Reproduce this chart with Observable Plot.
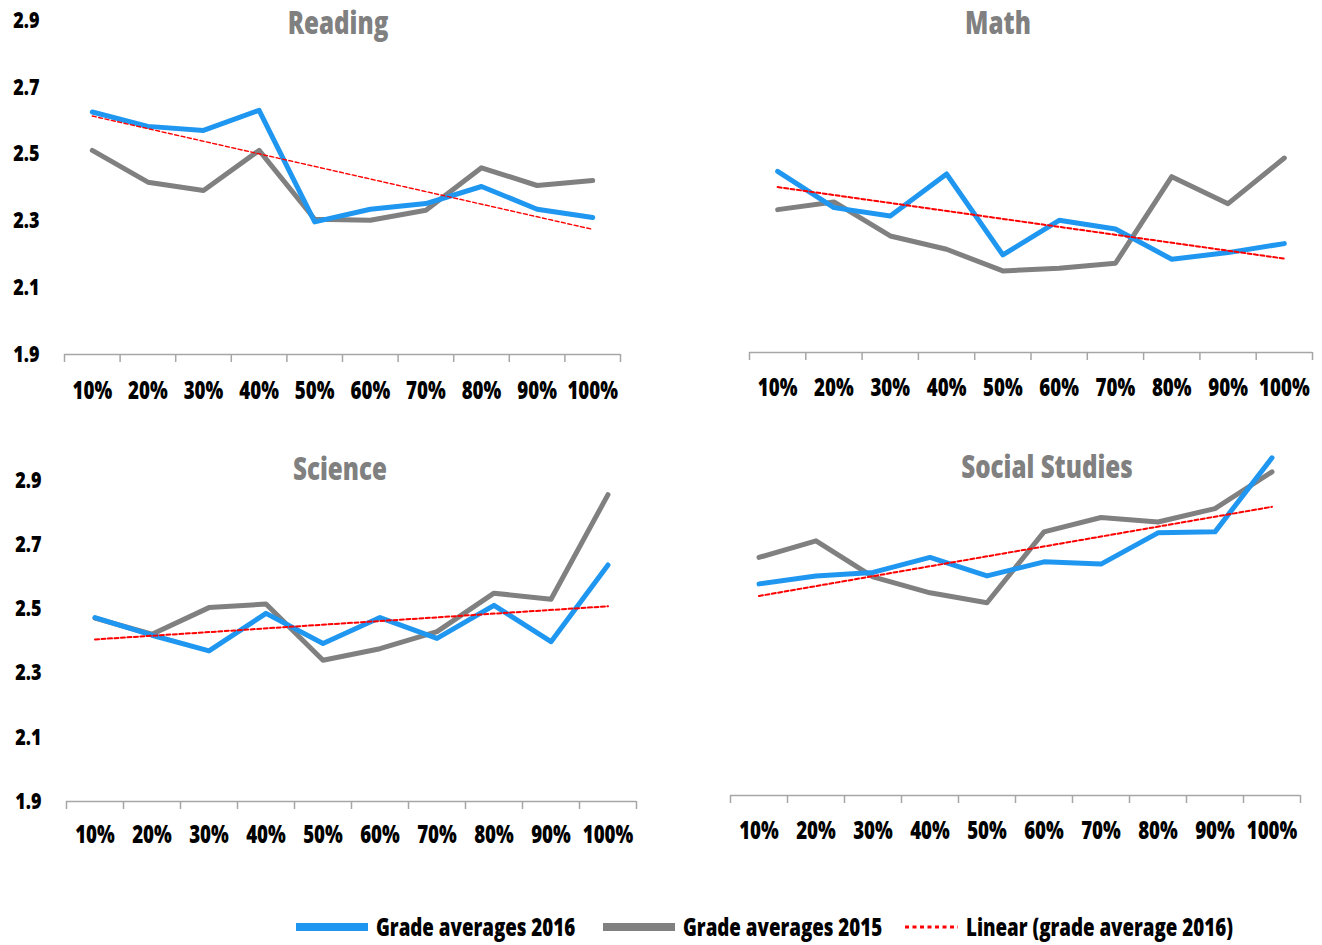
<!DOCTYPE html>
<html>
<head>
<meta charset="utf-8">
<script src="https://cdn.jsdelivr.net/npm/d3@7"></script>
<script src="https://cdn.jsdelivr.net/npm/@observablehq/plot@0.6"></script>
<style>
  body { margin: 0; background: #fff; }
  #chart {
    position: relative; width: 1322px; height: 945px; overflow: hidden;
    font-family: "Open Sans", "DejaVu Sans", sans-serif;
    font-weight: 800;
  }
  .panel { position: absolute; }
  .title {
    position: absolute; transform: translate(-50%, -50%) scaleX(0.78);
    color: #808080; font-size: 31px; line-height: 1; white-space: nowrap;
  }
  .legend-item {
    position: absolute; top: 927px; transform: translateY(-50%);
    display: flex; align-items: center; gap: 8px;
    font-size: 24px; line-height: 1; color: #000; white-space: nowrap;
  }
  .legend-item span { display: inline-block; transform: scaleX(0.78); transform-origin: left center; }
  .legend-item svg { display: block; }
</style>
</head>
<body>
<div id="chart"></div>
<script>
// Grade-percentile buckets along the x axis
const categories = ["10%", "20%", "30%", "40%", "50%", "60%", "70%", "80%", "90%", "100%"];
const yTicks = [1.9, 2.1, 2.3, 2.5, 2.7, 2.9];

// Grade averages per subject, 2016 and 2015
const reading2016 = [2.626, 2.583, 2.571, 2.631, 2.297, 2.335, 2.352, 2.403, 2.335, 2.310];
const reading2015 = [2.511, 2.416, 2.391, 2.511, 2.305, 2.302, 2.332, 2.459, 2.406, 2.421];
const math2016 = [2.444, 2.335, 2.310, 2.436, 2.193, 2.297, 2.271, 2.180, 2.200, 2.227];
const math2015 = [2.329, 2.352, 2.250, 2.210, 2.145, 2.153, 2.168, 2.428, 2.347, 2.484];
const science2016 = [2.473, 2.418, 2.369, 2.486, 2.392, 2.473, 2.408, 2.511, 2.398, 2.637];
const science2015 = [2.471, 2.421, 2.504, 2.515, 2.340, 2.376, 2.429, 2.549, 2.530, 2.856];
const social2016 = [2.563, 2.588, 2.599, 2.646, 2.588, 2.632, 2.625, 2.723, 2.726, 2.958];
const social2015 = [2.646, 2.698, 2.585, 2.535, 2.504, 2.726, 2.771, 2.757, 2.799, 2.914];

const seriesNames = ["Grade averages 2016", "Grade averages 2015", "Linear (grade average 2016)"];

const blue = "#1f97f0";
const gray = "#808080";
const red = "#ff0000";
const axisGray = "#a6a6a6";
const fontFamily = '"Open Sans", "DejaVu Sans", sans-serif';
const narrow = 0.78; // horizontal squeeze giving a condensed bold face

const chart = document.getElementById("chart");

function panel(cfg) {
  const rows = categories.map((c, k) => ({pos: k + 1, y2016: cfg.blue[k], y2015: cfg.gray[k]}));
  const positions = rows.map(d => d.pos);
  const bounds = [positions[0] - 0.5, ...positions.map(p => p + 0.5)];

  const marks = [
    Plot.ruleY([cfg.yDomain[0]], {stroke: axisGray, strokeWidth: 1.5}),
    Plot.axisX({ticks: bounds, tickSize: 8, tickFormat: () => "", label: null, stroke: axisGray, strokeWidth: 1.5}),
    Plot.axisX({
      ticks: positions, tickSize: 0, tickPadding: cfg.labelPad, label: null,
      tickFormat: p => categories[p - 1], fill: "#000", fontSize: 24
    }),
    Plot.lineY(rows, {x: "pos", y: "y2015", stroke: gray, strokeWidth: 5, strokeLinecap: "round", strokeLinejoin: "round"}),
    Plot.lineY(rows, {x: "pos", y: "y2016", stroke: blue, strokeWidth: 5, strokeLinecap: "round", strokeLinejoin: "round"}),
    Plot.linearRegressionY(rows, {
      x: "pos", y: "y2016", ci: 0, stroke: red,
      strokeWidth: cfg.trendWidth, strokeDasharray: "4,2.5"
    })
  ];
  if (cfg.yLabels) {
    marks.push(Plot.axisY({
      ticks: yTicks, tickSize: 0, tickPadding: 25, label: null,
      tickFormat: d3.format(".1f"), fill: "#000", fontSize: 23
    }));
  }

  const svg = Plot.plot({
    width: cfg.width, height: cfg.height,
    marginLeft: cfg.ml, marginRight: cfg.mr, marginTop: cfg.mt, marginBottom: cfg.mb,
    x: {domain: [positions[0] - 0.5, positions[positions.length - 1] + 0.5]},
    y: {domain: cfg.yDomain, axis: cfg.yLabels ? undefined : null},
    style: {fontFamily, fontWeight: 800, overflow: "visible", background: "transparent", color: "#000"},
    marks
  });
  // squeeze each label around its own anchor
  svg.querySelectorAll("text").forEach(t => {
    t.setAttribute("transform", (t.getAttribute("transform") || "") + ` scale(${narrow},1)`);
  });
  const wrap = document.createElement("div");
  wrap.className = "panel";
  wrap.style.left = cfg.left + "px";
  wrap.style.top = cfg.top + "px";
  wrap.appendChild(svg);
  chart.appendChild(wrap);

  const t = document.createElement("div");
  t.className = "title";
  t.textContent = cfg.title;
  t.style.left = cfg.titleX + "px";
  t.style.top = cfg.titleY + "px";
  chart.appendChild(t);
}

panel({
  title: "Reading", blue: reading2016, gray: reading2015, yLabels: true, yDomain: [1.9, 2.9],
  left: 0, top: 0, width: 660, height: 410, ml: 64, mr: 40, mt: 20, mb: 56,
  labelPad: 27, trendWidth: 1.4, titleX: 338, titleY: 22
});
panel({
  title: "Math", blue: math2016, gray: math2015, yLabels: false, yDomain: [1.9, 2.9],
  left: 660, top: 0, width: 662, height: 410, ml: 89, mr: 10, mt: 19, mb: 58,
  labelPad: 26, trendWidth: 2, titleX: 998, titleY: 22
});
panel({
  title: "Science", blue: science2016, gray: science2015, yLabels: true, yDomain: [1.9, 2.9],
  left: 0, top: 400, width: 660, height: 460, ml: 66, mr: 24, mt: 80, mb: 59,
  labelPad: 24, trendWidth: 2, titleX: 340, titleY: 468
});
panel({
  title: "Social Studies", blue: social2016, gray: social2015, yLabels: false, yDomain: [1.9, 3.1],
  left: 660, top: 400, width: 662, height: 460, ml: 70, mr: 22, mt: 12, mb: 65,
  labelPad: 26, trendWidth: 2, titleX: 1047, titleY: 466
});

// Legend along the bottom
function swatch(kind) {
  const ns = "http://www.w3.org/2000/svg";
  const s = document.createElementNS(ns, "svg");
  const w = kind === "trend" ? 53 : 72;
  s.setAttribute("width", w);
  s.setAttribute("height", 10);
  const l = document.createElementNS(ns, "line");
  l.setAttribute("x1", 0); l.setAttribute("x2", w);
  l.setAttribute("y1", 5); l.setAttribute("y2", 5);
  if (kind === "trend") {
    l.setAttribute("stroke", red);
    l.setAttribute("stroke-width", 3);
    l.setAttribute("stroke-dasharray", "4,3.5");
  } else {
    l.setAttribute("stroke", kind === "2016" ? blue : gray);
    l.setAttribute("stroke-width", 8);
  }
  s.appendChild(l);
  return s;
}
const legendItems = [
  {kind: "2016", label: seriesNames[0], left: 296},
  {kind: "2015", label: seriesNames[1], left: 603},
  {kind: "trend", label: seriesNames[2], left: 905}
];
for (const item of legendItems) {
  const el = document.createElement("div");
  el.className = "legend-item";
  el.style.left = item.left + "px";
  el.appendChild(swatch(item.kind));
  const span = document.createElement("span");
  span.textContent = item.label;
  el.appendChild(span);
  chart.appendChild(el);
}
</script>
</body>
</html>
